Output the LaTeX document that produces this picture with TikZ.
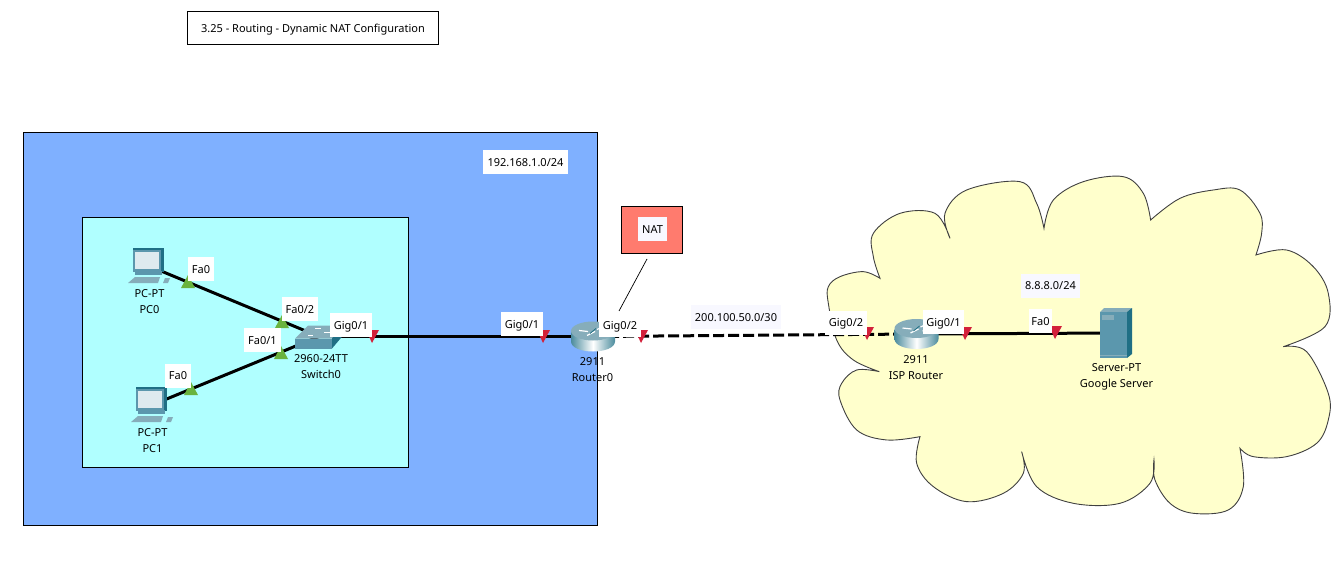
\documentclass[tikz,border=0pt]{standalone}
\usepackage{fontspec}
\setmainfont{Noto Sans}
\usetikzlibrary{positioning}
\definecolor{zoneblue}{HTML}{7FB0FF}
\definecolor{zoneaqua}{HTML}{B0FFFF}
\definecolor{cloudfill}{HTML}{FFFFCC}
\definecolor{natred}{HTML}{FF7B6E}
\definecolor{tagwhite}{HTML}{F8F8FF}
\definecolor{portgreen}{HTML}{6AB33E}
\definecolor{portred}{HTML}{D3203A}
\definecolor{iconmid}{HTML}{5B97AD}
\definecolor{icondark}{HTML}{1F6F85}
\definecolor{iconlight}{HTML}{86ADBA}
\tikzstyle{device} = [inner sep=0pt, minimum size=0pt]
\tikzstyle{devname} = [align=center, inner sep=0pt, font=\fontsize{11}{16}\selectfont]
\tikzstyle{tag} = [fill=white, inner xsep=0pt, inner ysep=0pt, minimum height=24, text height=8pt, text depth=0pt, font=\fontsize{11}{12}\selectfont]
\tikzstyle{zone} = [draw=black, line width=0.7pt]
\tikzstyle{link} = [line width=3pt]
\tikzset{
  upmark/.pic={\fill[portgreen] (-7,0) -- (7,0) -- (0,-13) -- cycle;},
  downmark/.pic={\fill[portred] (-6,-13) -- (7,-13) -- (0,0) -- cycle;},
  pcicon/.pic={
    \fill[icondark] (-16,-18) -- (15,-18) -- (15,6) -- (-16,6) -- cycle;
    \fill[iconmid] (-16,-16) -- (12,-16) -- (12,6) -- (-16,6) -- cycle;
    \fill[white!80!iconmid] (-14,-14) rectangle (10,3);
    \fill[iconmid] (-14,5) rectangle (13,9);
    \fill[iconlight] (-14,11) -- (11,11) -- (9,17) -- (-21,17) -- cycle;
    \fill[iconlight] (16,12) -- (21,12) -- (19,17) -- (14,17) -- cycle;
  },
  switchicon/.pic={
    \fill[iconlight] (-24,2) -- (-11,-11) -- (24,-11) -- (13,2) -- cycle;
    \fill[iconmid] (-24,2) rectangle (13,12);
    \fill[icondark] (13,2) -- (24,-11) -- (24,-1) -- (13,12) -- cycle;
    \draw[white, line width=1pt] (-11,-1) -- (-6,-1) (-4,-8) -- (2,-8) (5,-4) -- (11,-4);
  },
  routericon/.pic={
    \shade[left color=icondark!80, right color=icondark!80, middle color=white]
      (-22,-5) -- (-22,5) .. controls (-22,11) and (-12,15) .. (0,15)
      .. controls (12,15) and (22,11) .. (22,5) -- (22,-5) -- cycle;
    \fill[iconlight] (0,-5.5) ellipse [x radius=22, y radius=9.5];
    \draw[white, line width=1.2pt] (-14,-6) -- (-5,-5) (-6,-1) -- (2,-5) (4,-7) -- (13,-11) (6,-3) -- (14,-4);
    \draw[icondark, line width=0.8pt] (-3,-3) -- (3,-8);
  },
  servericon/.pic={
    \fill[iconlight] (-16,-21) -- (-12,-25) -- (16,-25) -- (11,-21) -- cycle;
    \fill[iconmid] (-16,-21) rectangle (11,25);
    \fill[icondark] (11,-21) -- (16,-25) -- (16,21) -- (11,25) -- cycle;
    \fill[iconlight] (-14,-18) rectangle (-2,-13);
    \draw[iconlight, line width=0.6pt] (-16,22) -- (11,22);
  }
}

\begin{document}
\begin{tikzpicture}[x=1pt, y=-1pt]
\useasboundingbox (0,0) rectangle (1338,562);

% zones
\node (title) [draw=black, line width=0.7pt, fill=white, minimum width=251, minimum height=33, inner sep=0pt, text height=8pt, text depth=0pt, font=\fontsize{11}{12}\selectfont] at (313,28) {3.25 - Routing - Dynamic NAT Configuration};
\node (lan) [zone, fill=zoneblue, minimum width=574, minimum height=393, inner sep=0pt] at (310.5,329) {};
\node (access) [zone, fill=zoneaqua, minimum width=326, minimum height=250, inner sep=0pt] at (245.5,342.5) {};
\node (nat) [zone, fill=natred, minimum width=61, minimum height=47, inner sep=0pt] at (652,229.5) {};

% cloud, one smooth piece between two cusps
\begin{scope}[shift={(820,170)}, scale=0.3333]
\filldraw[fill=cloudfill, draw=black!75, line width=0.9pt]
  plot[smooth, tension=0.6] coordinates {(180,325) (160,260) (160,190) (240,130) (345,130) (390,205)}
  -- plot[smooth, tension=0.6] coordinates {(390,205) (375,130) (440,60) (600,35) (650,100) (672,175)}
  -- plot[smooth, tension=0.6] coordinates {(672,175) (700,90) (790,35) (910,20) (970,70) (992,150)}
  -- plot[smooth, tension=0.6] coordinates {(992,150) (1080,85) (1180,60) (1260,60) (1320,130) (1325,190) (1308,255)}
  -- plot[smooth, tension=0.6] coordinates {(1308,255) (1400,240) (1480,290) (1525,370) (1515,470) (1390,530)}
  -- plot[smooth, tension=0.6] coordinates {(1390,530) (1460,545) (1525,670) (1525,750) (1490,820) (1400,860) (1300,860) (1260,835)}
  -- plot[smooth, tension=0.6] coordinates {(1260,835) (1270,950) (1225,1020) (1120,1030) (1050,1000) (1005,930) (1002,870)}
  -- plot[smooth, tension=0.6] coordinates {(1002,870) (990,940) (900,1000) (760,1000) (650,950) (605,845)}
  -- plot[smooth, tension=0.6] coordinates {(605,845) (610,910) (550,970) (440,995) (340,950) (290,880) (300,800)}
  -- plot[smooth, tension=0.6] coordinates {(300,800) (200,810) (110,780) (60,690) (65,640) (110,600) (178,605)}
  -- plot[smooth, tension=0.6] coordinates {(178,605) (100,570) (50,510) (25,400) (25,350) (60,320) (130,305) (180,325)}
  -- cycle;
\end{scope}

% devices
\node (pc0) [device] at (149,266) {};
\node (pc1) [device] at (152,405) {};
\node (sw) [device] at (319,336.5) {};
\node (r0) [device] at (593,336.5) {};
\node (isp) [device] at (916.5,334) {};
\node (srv) [device] at (1116,333) {};
\coordinate (natfoot) at (619,311);
\coordinate (nattop) at (647,259);

% links
\draw [link] (pc0) -- (sw);
\draw [link] (pc1) -- (sw);
\draw [link] (sw) -- (r0);
\draw [link, dash pattern=on 11pt off 4pt] (r0) -- (isp);
\draw [link] (isp) -- (srv);
\draw [line width=0.7pt] (natfoot) -- (nattop);

\pic at (pc0) {pcicon};
\pic at (pc1) {pcicon};
\pic at (sw) {switchicon};
\pic at (r0) {routericon};
\pic at (isp) {routericon};
\pic at (srv) {servericon};

% port marks
\pic at (188,288) {upmark};
\pic at (282,328) {upmark};
\pic at (281,359) {upmark};
\pic at (191,395) {upmark};
\pic at (372,343) {downmark};
\pic at (543,343) {downmark};
\pic at (641,343) {downmark};
\pic at (867,340) {downmark};
\pic at (965,340) {downmark};
\pic at (1055,339) {downmark};

% names
\node (pc0name) [devname] at (149.5,302) {PC-PT\\PC0};
\node (pc1name) [devname] at (152.5,441) {PC-PT\\PC1};
\node (swname) [devname] at (321,367) {2960-24TT\\Switch0};
\node (r0name) [devname] at (592.5,370) {2911\\Router0};
\node (ispname) [devname] at (916,368) {2911\\ISP Router};
\node (srvname) [devname] at (1116.5,377) {Server-PT\\Google Server};

% tags
\node (t1) [tag, minimum width=26] at (201,269) {Fa0};
\node (t2) [tag, minimum width=36] at (300,309) {Fa0/2};
\node (t3) [tag, minimum width=37] at (262.5,340) {Fa0/1};
\node (t4) [tag, minimum width=26] at (178,375.5) {Fa0};
\node (t5) [tag, minimum width=42] at (351,325) {Gig0/1};
\node (t6) [tag, minimum width=42] at (522,324) {Gig0/1};
\node (t7) [tag, minimum width=42] at (620,325) {Gig0/2};
\node (t8) [tag, minimum width=42] at (846,322.5) {Gig0/2};
\node (t9) [tag, minimum width=41] at (943.5,322) {Gig0/1};
\node (t10) [tag, minimum width=23] at (1040.5,321) {Fa0};
\node (lanaddr) [tag, minimum width=85] at (525.5,162) {192.168.1.0/24};
\node (wanaddr) [tag, fill=tagwhite, minimum width=90] at (736,317) {200.100.50.0/30};
\node (ispaddr) [tag, fill=tagwhite, minimum width=59] at (1050.5,285.5) {8.8.8.0/24};
\node (natname) [tag, fill=tagwhite, minimum width=29] at (652.5,229) {NAT};

\end{tikzpicture}
\end{document}
